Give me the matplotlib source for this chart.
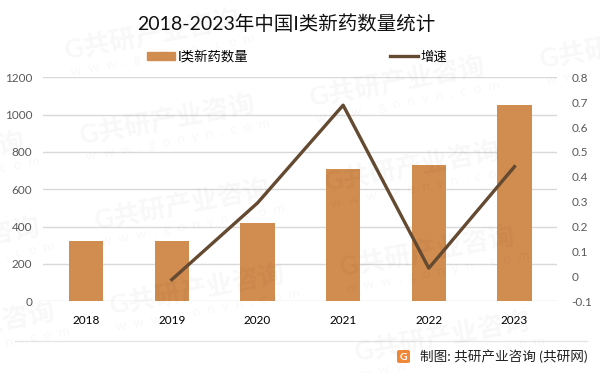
import matplotlib.pyplot as plt
from matplotlib.lines import Line2D
from matplotlib.patches import FancyBboxPatch, Patch

plt.rcParams['font.family'] = ['Lato', 'Noto Sans CJK SC', 'DejaVu Sans']

years = ['2018', '2019', '2020', '2021', '2022', '2023']
drugs = [323, 323, 419, 709, 730, 1051]
growth_years = ['2019', '2020', '2021', '2022', '2023']
growth = [-0.013, 0.295, 0.688, 0.033, 0.441]

title = '2018-2023年中国I类新药数量统计'
footer = '制图: 共研产业咨询 (共研网)'
bar_color = '#d18c4f'
line_color = '#654a32'

W, H = 600, 373
fig = plt.figure(figsize=(6, 3.73), dpi=100)

# axes box in pixels of the reference
ax = fig.add_axes([43.3 / W, 1 - 301.3 / H, 514 / W, 224 / H])
ax.bar(years, drugs, width=0.4, color=bar_color, zorder=2)
ax.set_xlim(-0.5, 5.5)
ax.set_ylim(0, 1200)
ax.set_yticks(range(0, 1201, 200))
ax.grid(axis='y', color='#d9d9d9', linewidth=1, zorder=0)
ax.set_axisbelow(True)
ax.tick_params(axis='y', length=0, labelsize=8.5, labelcolor='#595959', pad=8)
ax.tick_params(axis='x', length=0, labelsize=8.5, labelcolor='black', pad=10)
for s in ax.spines.values():
    s.set_visible(False)

ax2 = ax.twinx()
ax2.plot([years.index(y) for y in growth_years], growth, color=line_color, linewidth=2.4, zorder=3)
ax2.set_ylim(-0.1, 0.8)
ax2.set_yticks([-0.1, 0, 0.1, 0.2, 0.3, 0.4, 0.5, 0.6, 0.7, 0.8])
ax2.set_yticklabels(['-0.1', '0', '0.1', '0.2', '0.3', '0.4', '0.5', '0.6', '0.7', '0.8'])
ax2.tick_params(axis='y', length=0, labelsize=8.5, labelcolor='#595959', pad=10)
for s in ax2.spines.values():
    s.set_visible(False)

fig.text(286 / W, 1 - 24 / H, title, fontsize=14, ha='center', va='center', color='#111111')

# legend
fig.legend(handles=[Patch(color=bar_color, label='I类新药数量'),
                    Line2D([0], [0], color=line_color, linewidth=2.4, label='增速')],
           loc='center', bbox_to_anchor=(297 / W, 1 - 56 / H), ncols=2, frameon=False,
           fontsize=9.6, handlelength=2.1, handleheight=0.55, columnspacing=10.6, handletextpad=0.2)

# footer
fig.add_artist(Line2D([15 / W, 587 / W], [1 - 341 / H, 1 - 341 / H], color='#e6e6e6', linewidth=1))
logo = FancyBboxPatch((397 / W, 1 - 363 / H), 13 / W, 13 / H, boxstyle='round,pad=0,rounding_size=0.004',
                      transform=fig.transFigure, facecolor='#f0883a', edgecolor='none')
fig.add_artist(logo)
fig.text(403.5 / W, 1 - 357 / H, 'G', fontsize=7.5, fontweight='bold', color='white', ha='center', va='center')
fig.text(587 / W, 1 - 356 / H, footer, fontsize=9.8, ha='right', va='center', color='#222222')

# watermark grid, runs off the edges like the reference does
for i in range(-1, 4):
    for j in range(-1, 5):
        px = 65 + i * 230 + j * 15
        py = 50 - i * 38 + j * 85
        if px > W - 60 or px < -150 or py > H - 5 or py < 15:
            continue
        fig.text(px / W, 1 - py / H, 'G共研产业咨询', fontsize=19, fontweight='bold', color='black', alpha=0.03,
                 rotation=10.5, rotation_mode='anchor', ha='left', va='center', clip_on=True)
        fig.text((px + 6) / W, 1 - (py + 22) / H, 'w  w  w  .  g  o  n  y  n  .  c  o  m', fontsize=10,
                 color='black', alpha=0.03, rotation=10.5, rotation_mode='anchor', ha='left', va='center', clip_on=True)

fig.savefig('out.png', dpi=100)
